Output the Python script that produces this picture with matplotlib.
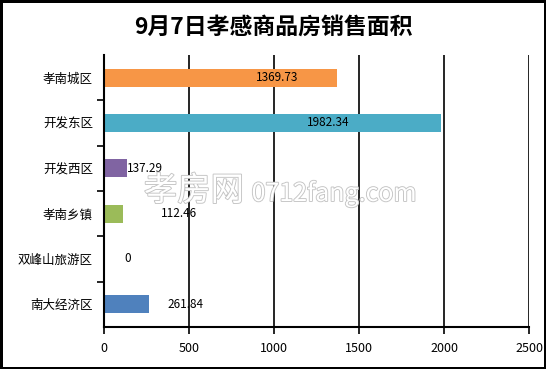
"""9月7日孝感商品房销售面积 - horizontal bar chart."""
import matplotlib.pyplot as plt
import matplotlib.patheffects as pe

plt.rcParams['font.family'] = ['Noto Sans CJK SC', 'DejaVu Sans']

districts = ["孝南城区", "开发东区", "开发西区", "孝南乡镇", "双峰山旅游区", "南大经济区"]
areas = [1369.73, 1982.34, 137.29, 112.46, 0, 261.84]
label_labels = ["1369.73", "1982.34", "137.29", "112.46", "0", "261.84"]
colors = ["#F79646", "#4BACC6", "#8064A2", "#9BBB59", "#4F81BD", "#4F81BD"]
x_ticks = [0, 500, 1000, 1500, 2000, 2500]

# where Excel put the data labels (data units) and their alignment
label_x = [1018, 1318, 137.29, 335, 141, 376]
label_ha = ["center", "center", "left", "left", "center", "left"]


def main() -> None:
    fig = plt.figure(figsize=(5.46, 3.69), dpi=100, edgecolor="black", linewidth=2.5)
    ax = fig.add_axes([104 / 546, 1 - 327 / 369, 425 / 546, 272 / 369])

    ypos = list(range(len(districts)))
    ax.barh(ypos, areas, height=0.4, color=colors, zorder=2)
    for y, lx, ha, txt in zip(ypos, label_x, label_ha, label_labels):
        ax.text(lx, y, txt, ha=ha, va="center", fontsize=8.5, zorder=6)

    ax.set_xlim(0, 2500)
    ax.set_ylim(len(districts) - 0.5, -0.5)
    ax.set_xticks(x_ticks)
    ax.set_yticks(ypos)
    ax.set_yticklabels(districts)
    ax.set_yticks([i + 0.5 for i in range(len(districts) - 1)], minor=True)
    ax.tick_params(axis="y", which="major", length=0, pad=8, labelsize=9)
    ax.tick_params(axis="y", which="minor", length=5, width=1.2, direction="out")
    ax.tick_params(axis="x", length=5, width=1.2, direction="out", labelsize=9, pad=6)
    ax.grid(axis="x", color="black", linewidth=1.2, zorder=1)
    for side in ("top", "right"):
        ax.spines[side].set_visible(False)
    ax.spines["left"].set_linewidth(1.5)
    ax.spines["bottom"].set_linewidth(1.5)

    # faint site watermark
    halo = [pe.withStroke(linewidth=1.3, foreground="#c4c4c4")]
    fig.text(194 / 546, 1 - 191 / 369, "孝房网", fontsize=24, color="white",
             ha="center", va="center", path_effects=halo, zorder=5)
    fig.text(334 / 546, 1 - 194 / 369, "0712fang.com", fontsize=18, color="white",
             ha="center", va="center", path_effects=halo, zorder=5)

    fig.text(0.5, 1 - 27 / 369, "9月7日孝感商品房销售面积", ha="center", va="center",
             fontsize=16.5, fontweight="bold")

    fig.savefig("out.png", dpi=100, edgecolor=fig.get_edgecolor())
    plt.close(fig)


if __name__ == "__main__":
    main()
